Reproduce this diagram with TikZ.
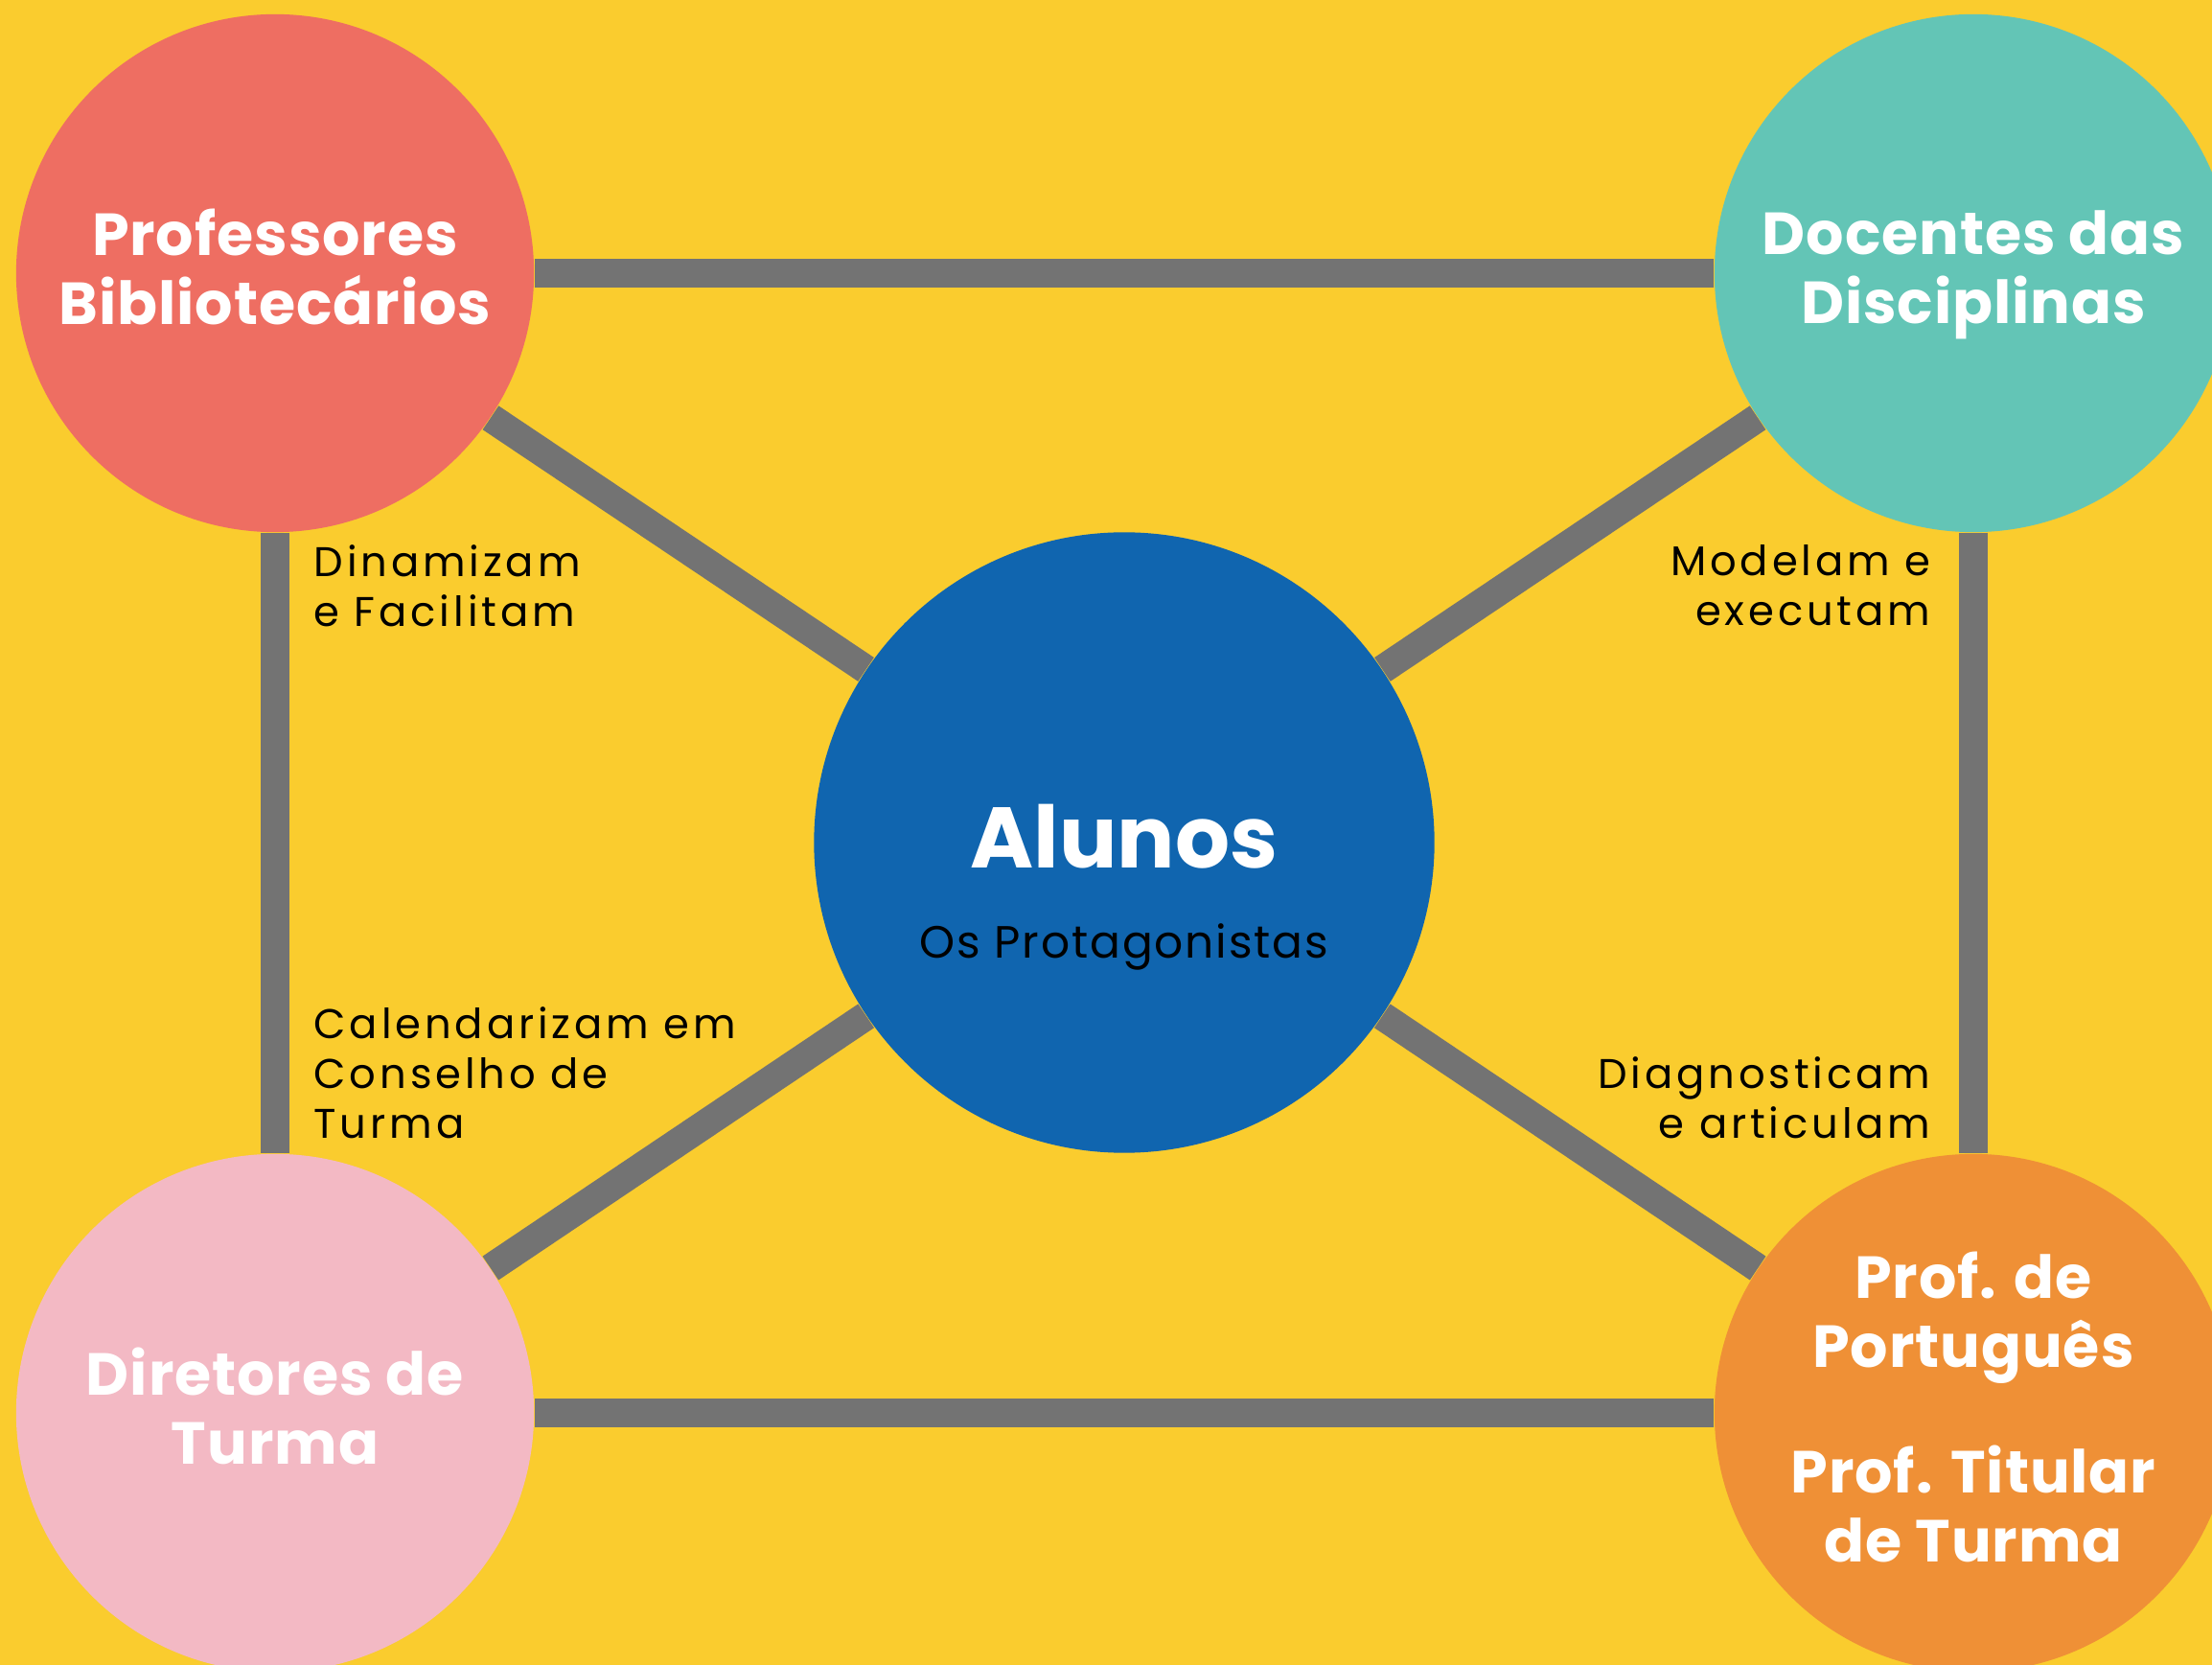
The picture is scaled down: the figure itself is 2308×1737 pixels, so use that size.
\documentclass[tikz,border=0pt]{standalone}
\usepackage{fontspec}
\setmainfont{Poppins}
\newfontfamily\labfont{Poppins}[LetterSpace=9]
\newfontfamily\protfont{Poppins}[LetterSpace=4]
\newfontfamily\titfont{Poppins}[LetterSpace=1.5]
\newfontfamily\alufont{Poppins}
\definecolor{bgyellow}{HTML}{FACC2E}
\definecolor{bibred}{HTML}{EE6E62}
\definecolor{docteal}{HTML}{63C5B6}
\definecolor{dirpink}{HTML}{F3B9C4}
\definecolor{porange}{HTML}{EF9036}
\definecolor{alublue}{HTML}{1065AF}
\definecolor{linkgray}{HTML}{737373}
\newcommand{\hubtop}{\rule{0pt}{14.2pt}}
\newcommand{\hubbot}{\rule[-4pt]{0pt}{4pt}}

\begin{document}
\begin{tikzpicture}[x=0.01cm, y=-0.01cm,
	hub/.style = {circle, inner sep=0pt, minimum size=5.4cm, text=white, align=center,
		font=\titfont\bfseries\fontsize{17.6}{20.5}\selectfont},
	link/.style = {draw=linkgray, line width=8.5pt},
	lab/.style = {inner sep=0pt, font=\labfont\fontsize{12.3}{14.8}\selectfont}]
	\useasboundingbox (0,0) rectangle (2308,1737);
	\clip (0,0) rectangle (2308,1737);
	\fill[bgyellow] (0,0) rectangle (2308,1737);

	\node[hub, fill=bibred] (bib) at (287,285) {\hubtop Professores\\Bibliotecários\hubbot};
	\node[hub, fill=docteal] (doc) at (2059,285) {\hubtop Docentes das\\Disciplinas\hubbot};
	\node[hub, fill=dirpink] (dir) at (287,1474) {\hubtop Diretores de\\Turma\hubbot};
	\node[hub, fill=porange] (port) at (2059,1474) {\hubtop Prof. de\\Português\\[16.8pt]Prof. Titular\\de Turma\hubbot};
	\node[circle, inner sep=0pt, minimum size=6.47cm, fill=alublue] (alunos) at (1173,879) {};
	\node[anchor=base, text=white, font=\alufont\bfseries\fontsize{25.5}{30}\selectfont] (alutit) at (1173,906) {Alunos};
	\node[anchor=base, font=\protfont\fontsize{13.4}{16}\selectfont] (aluprot) at (1173,1000) {Os Protagonistas};

	\draw[link] (bib) -- (doc);
	\draw[link] (bib) -- (dir);
	\draw[link] (doc) -- (port);
	\draw[link] (dir) -- (port);
	\foreach \c in {bib,doc,dir,port} {
		\draw[link] (\c) -- (alunos);
	}

	\node[lab, anchor=north west, align=left] (dinam) at (327,568) {Dinamizam\\e Facilitam};
	\node[lab, anchor=north west, align=left] (calend) at (327,1050) {Calendarizam em\\Conselho de\\Turma};
	\node[lab, anchor=north east, align=right] (model) at (2015,568) {Modelam e\\executam};
	\node[lab, anchor=north east, align=right] (diagn) at (2015,1102) {Diagnosticam\\e articulam};
\end{tikzpicture}
\end{document}
